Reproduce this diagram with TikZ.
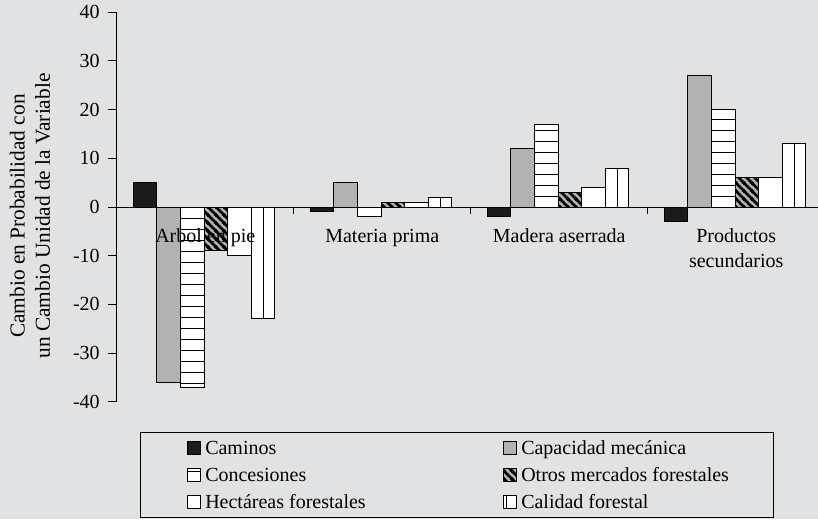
\documentclass[tikz,border=0pt]{standalone}
\usepackage{fontspec}
\setmainfont{Liberation Serif}
\usepackage{tikz}
\usetikzlibrary{patterns}

\definecolor{chartbg}{RGB}{225,226,228}
\definecolor{bargray}{RGB}{178,178,178}
\definecolor{barblack}{RGB}{28,26,29}

%diagonal stripes for Otros mercados forestales
\pgfdeclarepatternformonly{otrosstripes}{\pgfqpoint{-1pt}{-1pt}}{\pgfqpoint{7pt}{7pt}}{\pgfqpoint{6pt}{6pt}}{%
  \pgfsetlinewidth{2pt}
  \pgfpathmoveto{\pgfqpoint{-1pt}{7pt}}\pgfpathlineto{\pgfqpoint{7pt}{-1pt}}
  \pgfpathmoveto{\pgfqpoint{-1pt}{1pt}}\pgfpathlineto{\pgfqpoint{1pt}{-1pt}}
  \pgfpathmoveto{\pgfqpoint{5pt}{7pt}}\pgfpathlineto{\pgfqpoint{7pt}{5pt}}
  \pgfusepath{stroke}}

\begin{document}
\begin{tikzpicture}[x=0.75pt,y=0.75pt,yscale=-1,xscale=1,
  caminos/.style={draw=black,line width=0.75pt,fill=barblack},
  capacidad/.style={draw=black,line width=0.75pt,fill=bargray},
  concesiones/.style={draw=black,line width=0.75pt,fill=white},
  otros/.style={draw=black,line width=0.75pt,preaction={fill=bargray},pattern=otrosstripes,pattern color=black},
  hectareas/.style={draw=black,line width=0.75pt,fill=white},
  calidad/.style={draw=black,line width=0.75pt,fill=white},
  stripe/.style={line width=0.75pt},
  axisline/.style={line width=0.75pt},
  ticklabel/.style={anchor=east,inner sep=0.75pt,font=\fontsize{15}{18}\selectfont},
  catlabel/.style={anchor=base,inner sep=0.75pt,align=center,font=\fontsize{15}{18.75}\selectfont},
  legendtext/.style={anchor=base west,inner sep=0.75pt,font=\fontsize{15}{18}\selectfont}]
%set diagram to 818 x 519
\fill [chartbg] (0,0) rectangle (818,519);
\useasboundingbox (0,0) rectangle (818,519);

%Shape: Bars Arbol en pie
\draw [caminos] (133.3,207) rectangle (156.9,182.7);
\draw [capacidad] (156.9,207) rectangle (180.5,382.2);
\draw [concesiones] (180.5,207) rectangle (204.1,387.1);
\foreach \k in {1,...,16} \draw [stripe] (180.5,{207+11*\k}) -- (204.1,{207+11*\k});
\draw [otros] (204.1,207) rectangle (227.7,250.8);
\draw [hectareas] (227.7,207) rectangle (251.3,255.7);
\draw [calidad] (251.3,207) rectangle (274.9,318.9);
\draw [stripe] (263.1,207) -- (263.1,318.9);

%Shape: Bars Materia prima
\draw [caminos] (310.3,207) rectangle (333.9,211.9);
\draw [capacidad] (333.9,207) rectangle (357.5,182.7);
\draw [concesiones] (357.5,207) rectangle (381.1,216.7);
\draw [otros] (381.1,207) rectangle (404.7,202.1);
\draw [hectareas] (404.7,207) rectangle (428.3,202.1);
\draw [calidad] (428.3,207) rectangle (451.9,197.3);
\draw [stripe] (440.1,207) -- (440.1,197.3);

%Shape: Bars Madera aserrada
\draw [caminos] (487.3,207) rectangle (510.9,216.7);
\draw [capacidad] (510.9,207) rectangle (534.5,148.6);
\draw [concesiones] (534.5,207) rectangle (558.1,124.3);
\foreach \k in {1,...,7} \draw [stripe] (534.5,{207-11*\k}) -- (558.1,{207-11*\k});
\draw [otros] (558.1,207) rectangle (581.7,192.4);
\draw [hectareas] (581.7,207) rectangle (605.3,187.5);
\draw [calidad] (605.3,207) rectangle (628.9,168.1);
\draw [stripe] (617.1,207) -- (617.1,168.1);

%Shape: Bars Productos secundarios
\draw [caminos] (664.3,207) rectangle (687.9,221.6);
\draw [capacidad] (687.9,207) rectangle (711.5,75.6);
\draw [concesiones] (711.5,207) rectangle (735.1,109.7);
\foreach \k in {1,...,8} \draw [stripe] (711.5,{207-11*\k}) -- (735.1,{207-11*\k});
\draw [otros] (735.1,207) rectangle (758.7,177.8);
\draw [hectareas] (758.7,207) rectangle (782.3,177.8);
\draw [calidad] (782.3,207) rectangle (805.9,143.7);
\draw [stripe] (794.1,207) -- (794.1,143.7);

%Straight Lines axes
\draw [axisline] (116.75,12.3) -- (116.75,401.7);
\draw [axisline] (116.75,207) -- (830,207);
\foreach \t in {293.75,470.75,647.75,824.75} \draw [axisline] (\t,207) -- (\t,213.5);
\foreach \v in {40,30,...,-40} \draw [axisline] (108,{207-4.867*\v}) -- (116.75,{207-4.867*\v});

% Text Node
\draw (101,12.3) node [ticklabel] (t40) {40};
\draw (101,61) node [ticklabel] (t30) {30};
\draw (101,109.7) node [ticklabel] (t20) {20};
\draw (101,158.3) node [ticklabel] (t10) {10};
\draw (101,207) node [ticklabel] (t0) {0};
\draw (101,255.7) node [ticklabel] (tm10) {-10};
\draw (101,304.3) node [ticklabel] (tm20) {-20};
\draw (101,353) node [ticklabel] (tm30) {-30};
\draw (101,401.7) node [ticklabel] (tm40) {-40};
% Text Node
\draw (30,216) node [rotate=90,align=center,inner sep=0.75pt,font=\fontsize{16}{19}\selectfont] (ylabel) {Cambio en Probabilidad con\\un Cambio Unidad de la Variable};
% Text Node
\draw (205.25,242) node [catlabel] (arbol) {Arbol en pie};
\draw (382.25,242) node [catlabel] (materia) {Materia prima};
\draw (559.25,242) node [catlabel] (madera) {Madera aserrada};
\draw (736.25,267) node [catlabel] (productos) {Productos\\secundarios};

%Shape: Rectangle legend
\draw [line width=0.75pt] (140,432) rectangle (773,517);
\draw [caminos] (187,441) rectangle (200,454);
\draw (204,454) node [legendtext] (legcaminos) {Caminos};
\draw [capacidad] (503,441) rectangle (516,454);
\draw (520,454) node [legendtext] (legcapacidad) {Capacidad mecánica};
\draw [concesiones] (187,468) rectangle (200,481);
\draw [stripe] (187,471.5) -- (200,471.5);
\draw (204,481) node [legendtext] (legconcesiones) {Concesiones};
\draw [otros] (503,468) rectangle (516,481);
\draw (520,481) node [legendtext] (legotros) {Otros mercados forestales};
\draw [hectareas] (187,495) rectangle (200,508);
\draw (204,508) node [legendtext] (leghectareas) {Hectáreas forestales};
\draw [calidad] (503,495) rectangle (516,508);
\draw [stripe] (506.5,495) -- (506.5,508);
\draw (520,508) node [legendtext] (legcalidad) {Calidad forestal};

\end{tikzpicture}
\end{document}
